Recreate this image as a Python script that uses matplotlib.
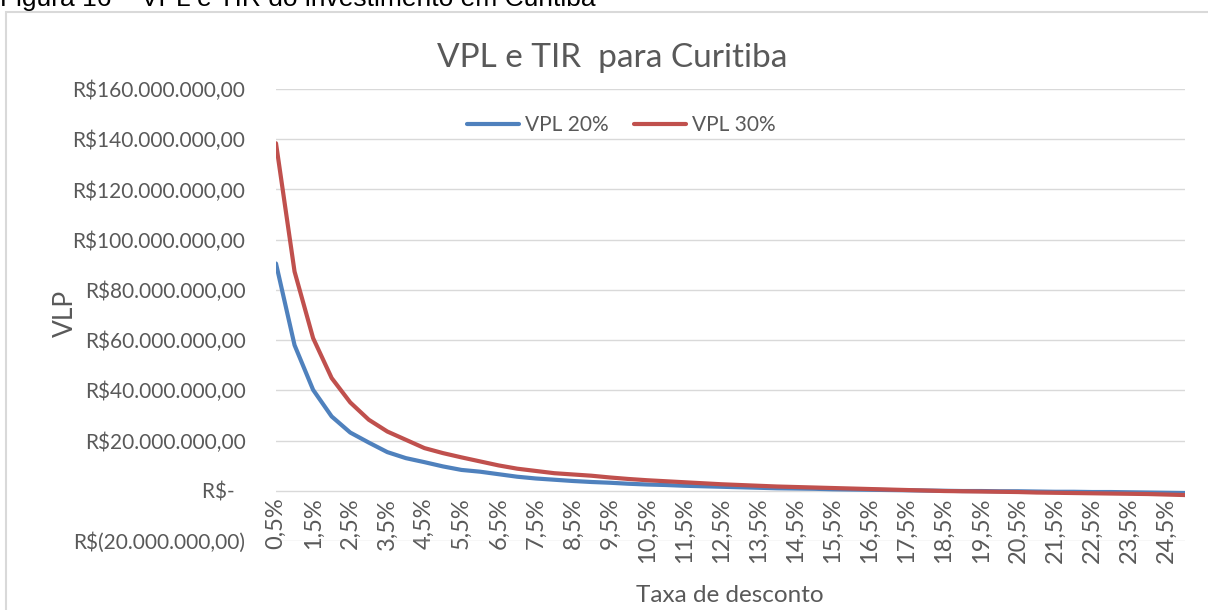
import matplotlib.pyplot as plt
from matplotlib.patches import Rectangle
from matplotlib.ticker import FuncFormatter

# taxas de desconto 0,5% ... 25,0%
taxas = [f"{0.5 * (i + 1):.1f}%".replace(".", ",") for i in range(50)]

# VPL em milhoes de R$
vpl_20 = [90.5, 58.0, 40.2, 29.6, 23.2, 19.2, 15.4, 13.0, 11.4, 9.7,
          8.3, 7.6, 6.6, 5.6, 4.9, 4.4, 3.9, 3.5, 3.2, 2.8,
          2.5, 2.3, 2.0, 1.8, 1.6, 1.4, 1.2, 1.0, 0.9, 0.8,
          0.6, 0.5, 0.4, 0.3, 0.2, 0.1, 0.0, -0.1, -0.1, -0.2,
          -0.2, -0.3, -0.4, -0.4, -0.5, -0.5, -0.6, -0.7, -0.8, -0.9]
vpl_30 = [138.4, 87.3, 60.8, 44.9, 35.2, 28.3, 23.6, 20.3, 17.0, 15.0,
          13.3, 11.7, 10.1, 8.8, 7.9, 7.0, 6.5, 6.0, 5.3, 4.7,
          4.2, 3.8, 3.4, 3.0, 2.6, 2.3, 2.0, 1.7, 1.5, 1.3,
          1.1, 0.9, 0.7, 0.5, 0.3, 0.1, -0.1, -0.2, -0.3, -0.4,
          -0.5, -0.7, -0.8, -0.9, -1.0, -1.1, -1.2, -1.3, -1.5, -1.7]

cinza = "#595959"
plt.rcParams['font.family'] = ['Lato', 'DejaVu Sans']


def brl(v, pos=None):
    if abs(v) < 1:
        return "R$-\u00a0\u00a0"
    s = f"{abs(v):,.2f}".replace(",", "X").replace(".", ",").replace("X", ".")
    return f"R$({s})" if v < 0 else f"R${s}"


fig = plt.figure(figsize=(12.08, 6.10), dpi=100)
ax = fig.add_axes([276 / 1208, 1 - 541 / 610, (1185 - 276) / 1208, (541 - 89) / 610])

# eixo das categorias cruza em zero
for s in ax.spines.values():
    s.set_visible(False)
ax.spines["bottom"].set_position(("data", 0))

x = range(len(taxas))
ax.plot(x, [v * 1e6 for v in vpl_20], color="#4F81BD", lw=3, label="VPL 20%",
        solid_capstyle="round")
ax.plot(x, [v * 1e6 for v in vpl_30], color="#C0504D", lw=3, label="VPL 30%",
        solid_capstyle="round")

ax.set_xlim(0, len(taxas) - 1)
ax.set_ylim(-20e6, 160e6)
ax.set_yticks([i * 20e6 for i in range(-1, 9)])
ax.yaxis.set_major_formatter(FuncFormatter(brl))
ax.set_xticks(list(x)[::2])
ax.set_xticklabels(taxas[::2])
ax.grid(axis="y", color="#d9d9d9", lw=1)
ax.set_axisbelow(True)
ax.tick_params(axis="both", length=0, colors=cinza, labelsize=15)
ax.tick_params(axis="y", pad=22)
ax.tick_params(axis="x", pad=5, labelrotation=90, labelsize=17)

fig.text(0.507, 1 - 58 / 610, "VPL e TIR  para Curitiba", ha="center", va="center",
         fontsize=24, color=cinza)
fig.text(65 / 1208, 1 - 313 / 610, "VLP", rotation=90, ha="center", va="center",
         fontsize=19, color=cinza)
fig.text(730 / 1208, 1 - 595 / 610, "Taxa de desconto", ha="center", va="center",
         fontsize=17.5, color=cinza)
fig.legend(loc="center", bbox_to_anchor=(621 / 1208, 1 - 125 / 610), ncol=2,
           frameon=False, fontsize=15, handlelength=2.5, handletextpad=0.3,
           columnspacing=1.2, labelcolor=cinza)

# moldura do grafico e legenda da figura cortada
fig.patches.append(Rectangle((6 / 1208, -0.5), 1.5, 0.5 + 1 - 12 / 610,
                             transform=fig.transFigure, fill=False,
                             edgecolor="#d9d9d9", lw=1.5))
fig.text(0, 1 - 6 / 610, "Figura 16 \u2013 VPL e TIR do investimento em Curitiba",
         ha="left", va="baseline", fontsize=19, color="black",
         family="Liberation Sans")

fig.savefig("out.png", dpi=100)
